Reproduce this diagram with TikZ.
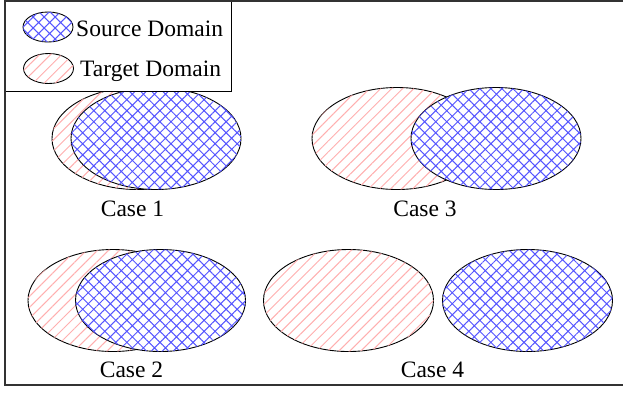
\documentclass[tikz,border=0pt]{standalone}
\usepackage{fontspec}
\setmainfont{Liberation Serif}
\usetikzlibrary{shapes.geometric,patterns.meta}

\definecolor{srcblue}{RGB}{85,85,255}
\definecolor{tgtpink}{RGB}{255,175,175}

\tikzset{
	dom/.style={ellipse, draw, line width=0.9pt, inner sep=0pt, minimum width=170pt, minimum height=102pt, fill=white},
	srcdom/.style={dom, postaction={pattern={Hatch[angle=45,distance=7.8pt,line width=1pt]}, pattern color=srcblue}},
	tgtdom/.style={dom, postaction={pattern={Lines[angle=45,distance=7.8pt,line width=1pt]}, pattern color=tgtpink}},
	small/.style={minimum width=50pt, minimum height=30pt},
	lbl/.style={anchor=base, inner sep=0pt, font=\fontsize{23.5}{28}\selectfont},
}

\begin{document}
\begin{tikzpicture}[x=1pt, y=-1pt]
	\useasboundingbox (0,0) rectangle (623,392);

	% case 1
	\node[tgtdom] (t1) at (137, 138.5) {};
	\node[srcdom] (s1) at (156, 138.5) {};
	\node[lbl] (c1) at (132.5, 216) {Case 1};

	% case 3
	\node[tgtdom] (t3) at (397, 138.5) {};
	\node[srcdom] (s3) at (496, 138.5) {};
	\node[lbl] (c3) at (425, 216) {Case 3};

	% case 2
	\node[tgtdom] (t2) at (113, 300.5) {};
	\node[srcdom] (s2) at (160.5, 300.5) {};
	\node[lbl] (c2) at (131.5, 377) {Case 2};

	% case 4
	\node[tgtdom] (t4) at (348.5, 300.5) {};
	\node[srcdom] (s4) at (527.5, 300.5) {};
	\node[lbl] (c4) at (432.5, 377) {Case 4};

	% legend
	\draw[line width=1pt, fill=white] (5, 1) rectangle (231.5, 91);
	\node[srcdom, small] (ls) at (48, 27) {};
	\node[tgtdom, small] (lt) at (48.5, 68.5) {};
	\node[lbl, anchor=base west] (lsl) at (76, 36) {Source Domain};
	\node[lbl, anchor=base west] (ltl) at (80, 76) {Target Domain};

	% frame
	\draw[line width=1.2pt, black!80] (5, 1) rectangle (624, 385);
\end{tikzpicture}
\end{document}
